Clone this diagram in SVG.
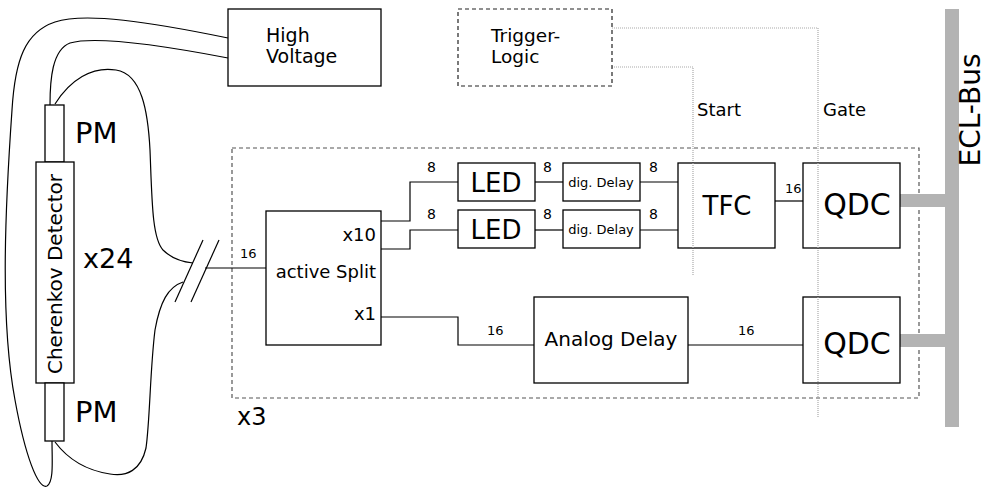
<svg xmlns="http://www.w3.org/2000/svg" width="988" height="487" viewBox="0 0 988 487">
<style>
text{font-family:"DejaVu Sans","Liberation Sans",sans-serif;fill:#000}
.box{fill:#fff;stroke:#000;stroke-width:1.3}
.dbox{fill:none;stroke:#555;stroke-width:1.2;stroke-dasharray:4,3}
.w{fill:none;stroke:#000;stroke-width:1.2}
.dot{fill:none;stroke:#aaa;stroke-width:1.2;stroke-dasharray:1,1}
.bus{fill:#b3b3b3}
.n{font-size:14px}
.s{font-size:13px}
</style>
<rect width="988" height="487" fill="#fff"/>
<g id="crate">
<rect x="232" y="148" width="687" height="250" class="dbox"/>
<text x="237" y="425" font-size="24">x3</text>
</g>
<g id="connectors">
<path class="w" d="M228,38 C150,22 85,12 55,22 C25,32 15,60 12,110 C5,210 0,320 15,400 C25,455 38,490 47,486 C54,482 52,460 52,441"/>
<path class="w" d="M228,58 C160,45 95,36 70,43 C52,50 50,80 50,105"/>
<path class="w" d="M55,104 C70,80 92,66 116,70 C142,74 148,112 150,150 C152,200 152,238 163,250 C172,259 183,262 193,263"/>
<path class="w" d="M183,282 C168,287 160,302 155,330 C150,370 150,420 146,448 C141,470 127,477 110,474 C90,471 70,462 55,442"/>
<line class="w" x1="203" y1="240" x2="175" y2="302"/>
<line class="w" x1="219" y1="240" x2="191" y2="302"/>
<line class="w" x1="205" y1="268" x2="266" y2="268"/>
<text x="240" y="258" class="s">16</text>
<polyline class="w" points="381,221 410,221 410,182 458,182"/>
<polyline class="w" points="381,249 410,249 410,230 458,230"/>
<text x="427" y="172" class="n">8</text>
<text x="427" y="219" class="n">8</text>
<line class="w" x1="535" y1="182" x2="563" y2="182"/>
<line class="w" x1="535" y1="230" x2="563" y2="230"/>
<text x="543" y="172" class="n">8</text>
<text x="543" y="219" class="n">8</text>
<line class="w" x1="640" y1="182" x2="678" y2="182"/>
<line class="w" x1="640" y1="230" x2="678" y2="230"/>
<text x="649" y="172" class="n">8</text>
<text x="649" y="219" class="n">8</text>
<line class="w" x1="775" y1="201" x2="803" y2="201"/>
<text x="785" y="193" class="s">16</text>
<polyline class="w" points="381,317 458,317 458,345 534,345"/>
<text x="487" y="335" class="s">16</text>
<line class="w" x1="688" y1="345" x2="803" y2="345"/>
<text x="738" y="335" class="s">16</text>
<polyline class="dot" points="612,28 818,28 818,417"/>
<polyline class="dot" points="612,67 693,67 693,276"/>
<text x="697" y="116" font-size="18">Start</text>
<text x="823" y="116" font-size="18">Gate</text>
<rect class="bus" x="900" y="194" width="46" height="13"/>
<rect class="bus" x="900" y="334" width="46" height="13"/>
</g>
<g id="ecl-bus">
<rect class="bus" x="945" y="9" width="14" height="418"/>
<text transform="translate(980,110) rotate(-90)" text-anchor="middle" font-size="28">ECL-Bus</text>
</g>
<g id="high-voltage">
<rect class="box" x="228" y="9" width="153" height="77"/>
<text x="266" y="42" font-size="19">High</text>
<text x="266" y="63" font-size="19">Voltage</text>
</g>
<g id="trigger-logic">
<rect x="458" y="9" width="154" height="77" fill="#fff" stroke="#222" stroke-width="1.2" stroke-dasharray="4,3"/>
<text x="491" y="42" font-size="18.5">Trigger-</text>
<text x="491" y="63" font-size="18.5">Logic</text>
</g>
<g id="pm-top">
<rect class="box" x="45" y="105" width="19" height="57"/>
<text x="75" y="143" font-size="29">PM</text>
</g>
<g id="detector">
<rect class="box" x="36" y="162" width="38" height="221"/>
<text transform="translate(62,274) rotate(-90)" text-anchor="middle" font-size="20">Cherenkov Detector</text>
<text x="83" y="268" font-size="27">x24</text>
</g>
<g id="pm-bottom">
<rect class="box" x="45" y="383" width="19" height="58"/>
<text x="75" y="422" font-size="29">PM</text>
</g>
<g id="active-split">
<rect class="box" x="266" y="211" width="115" height="134"/>
<text x="376" y="241" text-anchor="end" font-size="18">x10</text>
<text x="376" y="278" text-anchor="end" font-size="18">active Split</text>
<text x="376" y="320" text-anchor="end" font-size="18">x1</text>
</g>
<g id="led1">
<rect class="box" x="458" y="163" width="77" height="38"/>
<text x="496" y="192" text-anchor="middle" font-size="26">LED</text>
</g>
<g id="led2">
<rect class="box" x="458" y="210" width="77" height="38"/>
<text x="496" y="239" text-anchor="middle" font-size="26">LED</text>
</g>
<g id="dig-delay1">
<rect class="box" x="563" y="163" width="77" height="38"/>
<text x="601" y="187" text-anchor="middle" font-size="13">dig. Delay</text>
</g>
<g id="dig-delay2">
<rect class="box" x="563" y="210" width="77" height="38"/>
<text x="601" y="234" text-anchor="middle" font-size="13">dig. Delay</text>
</g>
<g id="tfc">
<rect class="box" x="678" y="163" width="97" height="85"/>
<text x="727" y="215" text-anchor="middle" font-size="26">TFC</text>
</g>
<g id="qdc1">
<rect class="box" x="803" y="163" width="97" height="85"/>
<text x="857" y="215" text-anchor="middle" font-size="30">QDC</text>
</g>
<g id="analog-delay">
<rect class="box" x="534" y="297" width="154" height="86"/>
<text x="611" y="346" text-anchor="middle" font-size="20">Analog Delay</text>
</g>
<g id="qdc2">
<rect class="box" x="803" y="297" width="97" height="86"/>
<text x="857" y="354" text-anchor="middle" font-size="30">QDC</text>
</g>
<polyline class="dot" points="818,163 818,248"/>
<polyline class="dot" points="818,297 818,383"/>
<polyline class="dot" points="693,163 693,248"/>
</svg>
